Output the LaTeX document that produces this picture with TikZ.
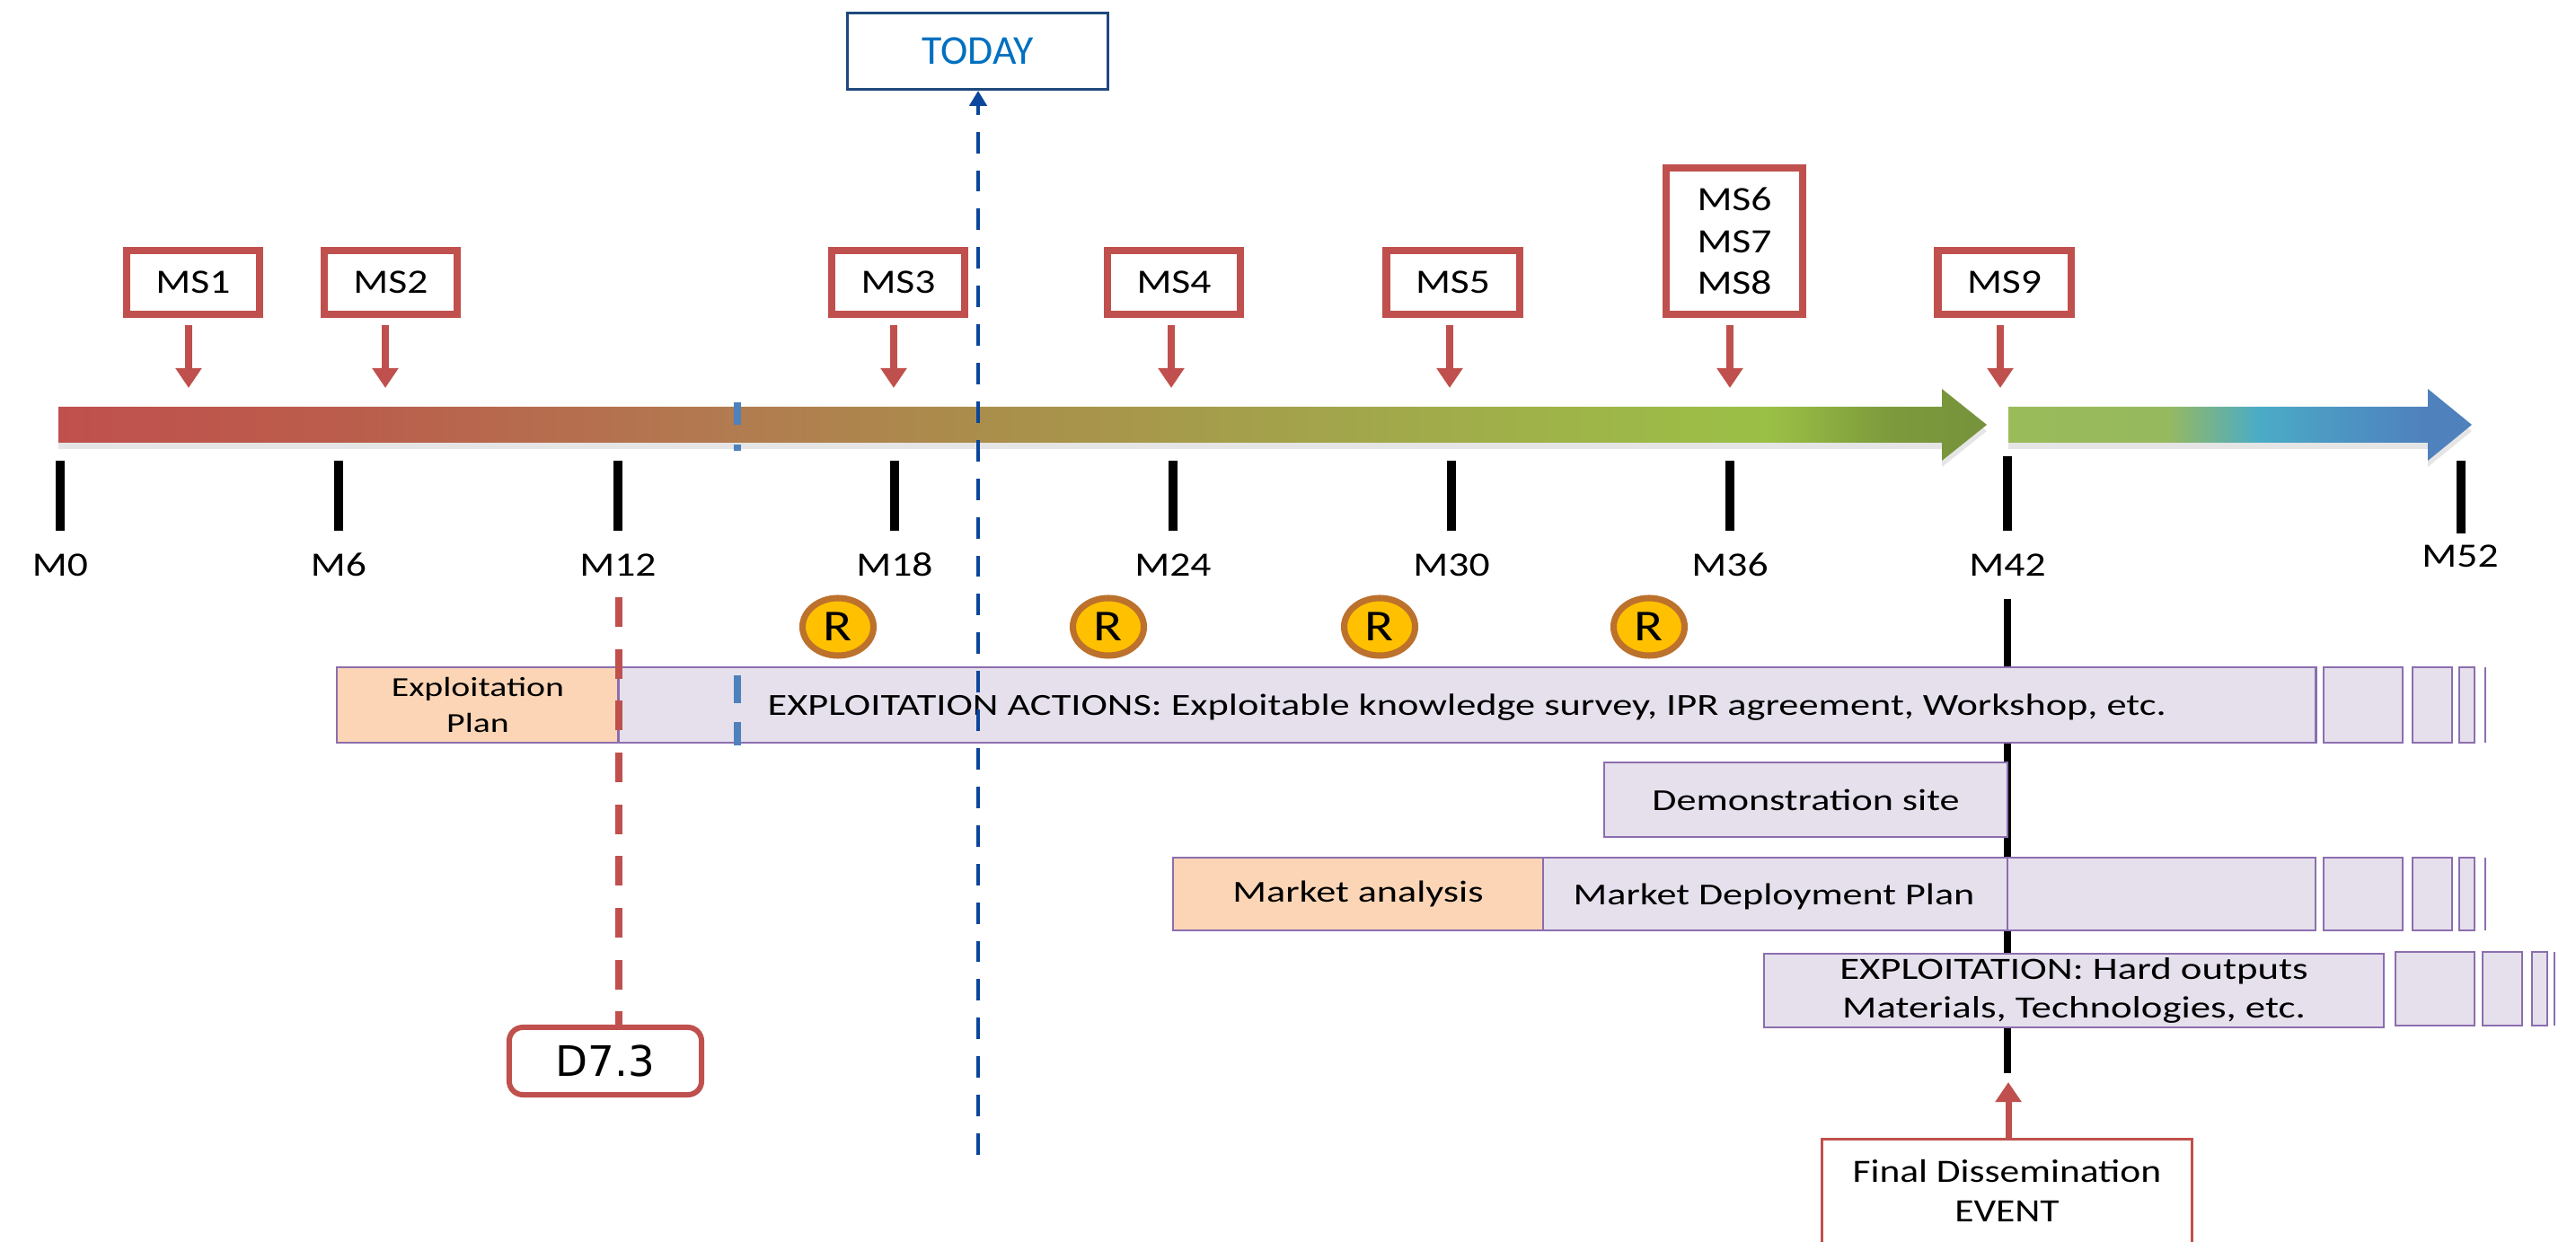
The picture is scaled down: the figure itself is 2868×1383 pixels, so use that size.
\documentclass[tikz,border=0pt]{standalone}
\usepackage{fontspec}
\setmainfont{Carlito}[FakeStretch=1.3]
\newfontfamily\narrowfont{Carlito}[FakeStretch=1.2]
\newfontfamily\plainfont{Carlito}
\newfontfamily\dvfont{DejaVu Sans}
\usetikzlibrary{arrows.meta,shapes.geometric}

\definecolor{msred}{RGB}{192,80,77}
\definecolor{todayblue}{RGB}{0,112,192}
\definecolor{todayline}{RGB}{10,70,155}
\definecolor{boxblue}{RGB}{31,73,125}
\definecolor{lightblue}{RGB}{79,129,189}
\definecolor{lav}{RGB}{229,224,236}
\definecolor{peach}{RGB}{251,213,181}
\definecolor{purp}{RGB}{140,110,175}
\definecolor{rfill}{RGB}{255,192,0}
\definecolor{rborder}{RGB}{188,113,44}

\definecolor{cA1}{RGB}{192,80,77}
\definecolor{cA2}{RGB}{186,94,76}
\definecolor{cA3}{RGB}{178,122,80}
\definecolor{cA4}{RGB}{170,142,75}
\definecolor{cA5}{RGB}{162,166,75}
\definecolor{cA6}{RGB}{155,192,70}
\definecolor{cA7}{RGB}{125,155,60}
\definecolor{cA8}{RGB}{118,146,60}
\definecolor{cB1}{RGB}{155,187,89}
\definecolor{cB2}{RGB}{150,185,95}
\definecolor{cB3}{RGB}{75,172,198}
\definecolor{cB4}{RGB}{76,150,195}
\definecolor{cB5}{RGB}{79,129,189}

\pgfdeclarehorizontalshading{barA}{100bp}{color(0bp)=(cA1); color(25bp)=(cA1); color(32.8bp)=(cA2); color(42.1bp)=(cA3); color(49.1bp)=(cA4); color(58.4bp)=(cA5); color(69.3bp)=(cA6); color(72.4bp)=(cA7); color(75bp)=(cA8); color(100bp)=(cA8)}
\pgfdeclarehorizontalshading{barB}{100bp}{color(0bp)=(cB1); color(25bp)=(cB1); color(42.2bp)=(cB2); color(52bp)=(cB3); color(60.3bp)=(cB4); color(70bp)=(cB5); color(75bp)=(cB5); color(100bp)=(cB5)}

\tikzset{
  msbox/.style={draw=msred, line width=2.3pt, fill=white, inner sep=0pt,
    minimum width=1.48cm, minimum height=0.71cm, align=center,
    font=\narrowfont\fontsize{10.8}{13.2}\selectfont},
  msarrow/.style={draw=msred, line width=2pt, -{Triangle[length=6.3pt,width=8pt]}, shorten <=2.3pt},
  evarrow/.style={draw=msred, line width=2pt, -{Triangle[length=6.3pt,width=8pt]}},
  tick/.style={line width=2.85pt},
  mlab/.style={inner sep=0pt, anchor=base, font=\narrowfont\fontsize{10.8}{13}\selectfont},
  pbox/.style={draw=purp, line width=0.7pt, fill=lav, inner sep=0pt, outer sep=0pt},
  peachbox/.style={pbox, fill=peach},
  boxtxt/.style={inner sep=0pt, font=\fontsize{9.65}{12.5}\selectfont},
  rball/.style={ellipse, draw=rborder, line width=2pt, fill=rfill, inner sep=0pt,
    minimum width=0.79cm, minimum height=0.64cm, font=\narrowfont\fontsize{14}{16}\selectfont},
}

\begin{document}
\begin{tikzpicture}[x=0.01cm, y=-0.01cm]
\useasboundingbox (0,0) rectangle (2868,1383);

% ---- timeline arrows ----
\fill[black!10] (65,460) -- (2162,460) -- (2162,440) -- (2212,480) -- (2162,520) -- (2162,500) -- (65,500) -- cycle;
\fill[black!10] (2236,460) -- (2703,460) -- (2703,440) -- (2752,480) -- (2703,520) -- (2703,500) -- (2236,500) -- cycle;
\shade[shading=barA] (65,453) -- (2162,453) -- (2162,433) -- (2212,473) -- (2162,513) -- (2162,493) -- (65,493) -- cycle;
\shade[shading=barB] (2236,453) -- (2703,453) -- (2703,433) -- (2752,473) -- (2703,513) -- (2703,493) -- (2236,493) -- cycle;

% ---- light blue marker ----
\draw[lightblue, line width=2.5pt] (821,448) -- (821,473) (821,495) -- (821,502);

% ---- ticks and labels ----
\foreach \x/\n in {67/0, 377/6, 688/12, 996/18, 1306/24, 1616/30, 1926/36} {
  \draw[tick] (\x,513) -- (\x,591);
  \node[mlab] (m\n) at (\x,642) {M\n};
}
\draw[tick] (2235,508) -- (2235,591);
\node[mlab] (m42) at (2235,642) {M42};
\draw[tick] (2740,513) -- (2740,594);
\node[mlab] (m52) at (2739,632) {M52};

% ---- milestone boxes ----
\node[msbox] (ms1) at (215,314.5) {MS1};
\node[msbox] (ms2) at (435,314.5) {MS2};
\node[msbox] (ms3) at (1000,314.5) {MS3};
\node[msbox] (ms4) at (1307,314.5) {MS4};
\node[msbox] (ms5) at (1617.5,314.5) {MS5};
\node[msbox, minimum width=1.52cm, minimum height=1.63cm] (ms6) at (1931,268.5) {MS6\\MS7\\MS8};
\node[msbox] (ms9) at (2231.5,314.5) {MS9};

\coordinate (a1) at (210,432);
\coordinate (a2) at (429,432);
\coordinate (a3) at (995,432);
\coordinate (a4) at (1304,432);
\coordinate (a5) at (1614,432);
\coordinate (a6) at (1926,432);
\coordinate (a9) at (2227,432);
\draw[msarrow] (ms1.south -| a1) -- (a1);
\draw[msarrow] (ms2.south -| a2) -- (a2);
\draw[msarrow] (ms3.south -| a3) -- (a3);
\draw[msarrow] (ms4.south -| a4) -- (a4);
\draw[msarrow] (ms5.south -| a5) -- (a5);
\draw[msarrow] (ms6.south -| a6) -- (a6);
\draw[msarrow] (ms9.south -| a9) -- (a9);

% ---- M42 long line (behind boxes) ----
\draw[line width=2.3pt] (2235,667) -- (2235,1195);

% ---- R circles ----
\node[rball] (r1) at (933,698) {R};
\node[rball] (r2) at (1234,698) {R};
\node[rball] (r3) at (1536,698) {R};
\node[rball] (r4) at (1836,698) {R};

% ---- row 1 ----
\node[peachbox, minimum width=3.14cm, minimum height=0.84cm, align=center,
      font=\fontsize{8.7}{11.4}\selectfont] (plan) at (532,785) {Exploitation\\Plan};
\node[pbox, minimum width=18.89cm, minimum height=0.84cm] (act) at (1633.5,785) {};
\node[boxtxt, anchor=base west, font=\fontsize{9.7}{12}\selectfont] (acttxt) at (854,797)
  {EXPLOITATION ACTIONS: Exploitable knowledge survey, IPR agreement, Workshop, etc.};
\foreach \a/\b in {2587/2675, 2686/2730, 2738/2755} {
  \draw[pbox] (\a,743) rectangle (\b,827);
}
\draw[purp, line width=0.7pt] (2767,743) -- (2767,827);

% ---- demonstration ----
\node[pbox, minimum width=4.49cm, minimum height=0.83cm, font=\fontsize{9.65}{12}\selectfont] (demo) at (2010.5,890.5) {Demonstration site};

% ---- market row ----
\node[peachbox, minimum width=4.12cm, minimum height=0.81cm, font=\fontsize{9.65}{12}\selectfont] (mana) at (1512,995.5) {Market analysis};
\node[pbox, minimum width=5.17cm, minimum height=0.81cm] (mdp) at (1976.5,995.5) {};
\node[boxtxt, anchor=base west] (mdptxt) at (1751,1008) {Market Deployment Plan};
\node[pbox, minimum width=3.43cm, minimum height=0.81cm] (mext) at (2406.5,995.5) {};
\foreach \a/\b in {2587/2675, 2686/2730, 2738/2755} {
  \draw[pbox] (\a,955) rectangle (\b,1036);
}
\draw[purp, line width=0.7pt] (2767,955) -- (2767,1036);

% ---- hard outputs ----
\node[pbox, minimum width=6.90cm, minimum height=0.82cm, align=center,
      font=\fontsize{9.8}{12.5}\selectfont] (hard) at (2309,1103) {EXPLOITATION: Hard outputs\\Materials, Technologies, etc.};
\foreach \a/\b in {2667/2755, 2764/2808, 2819/2836} {
  \draw[pbox] (\a,1060) rectangle (\b,1142);
}
\draw[purp, line width=0.7pt] (2844,1060) -- (2844,1142);

% ---- lower light blue marker (over box) ----
\draw[lightblue, line width=2.5pt] (821,752) -- (821,783) (821,804) -- (821,830);

% ---- D7.3 ----
\node[draw=msred, line width=1.7pt, rounded corners=4.3pt, fill=white, inner sep=0pt,
      minimum width=2.14cm, minimum height=0.75cm,
      font=\dvfont\fontsize{13.3}{15}\selectfont] (d73) at (674,1181.5) {D7.3};
\coordinate (d73top) at (689,665);
\draw[msred, line width=2.3pt, dash pattern=on 9.4pt off 7pt] (d73top) -- (d73top |- d73.north);

% ---- TODAY ----
\node[draw=boxblue, line width=0.85pt, fill=white, inner sep=0pt, minimum width=2.90cm, minimum height=0.85cm,
      text=todayblue, font=\plainfont\fontsize{13}{15}\selectfont] (today) at (1088.5,57) {TODAY};
\coordinate (tbot) at (1089,1286);
\draw[todayline, line width=1.4pt, dash pattern=on 6.8pt off 5.4pt,
      -{Triangle[length=4.8pt,width=5.4pt]}] (tbot) -- (tbot |- today.south);

% ---- final dissemination event ----
\node[fill=white, inner sep=0pt, outer sep=0pt, minimum width=4.12cm, minimum height=1.15cm, align=center,
      font=\narrowfont\fontsize{10.3}{12.5}\selectfont] (ev) at (2234.5,1326) {Final Dissemination\\EVENT};
\draw[msred, line width=0.85pt] (ev.south west) -- (ev.north west) -- (ev.north east) -- (ev.south east);
\coordinate (evtip) at (2236,1205);
\draw[evarrow] (ev.north -| evtip) -- (evtip);
\end{tikzpicture}
\end{document}
